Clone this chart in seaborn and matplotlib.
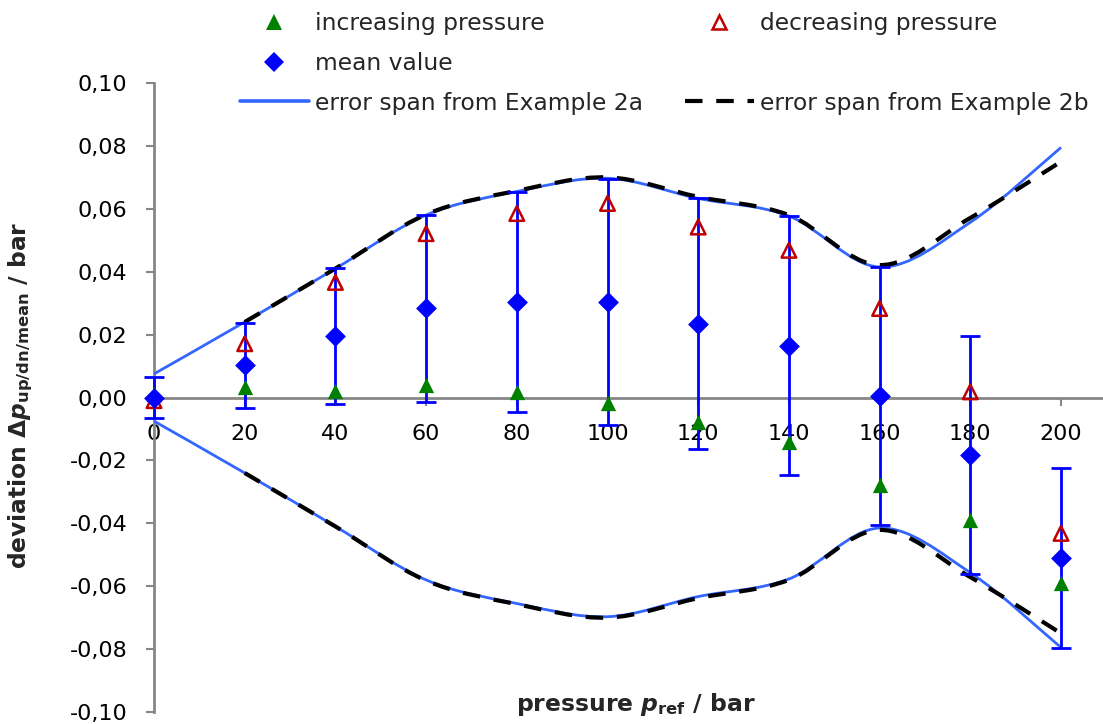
import numpy as np
import matplotlib
matplotlib.use("Agg")
import matplotlib.pyplot as plt
from matplotlib.path import Path
from matplotlib.patches import PathPatch
from matplotlib.lines import Line2D
from matplotlib.ticker import FuncFormatter
import seaborn as sns

# ---------------- data ----------------
pressure = [0, 20, 40, 60, 80, 100, 120, 140, 160, 180, 200]
increasing = [0.0010, 0.0032, 0.0021, 0.0039, 0.0016, -0.0016, -0.0077, -0.0141, -0.0277, -0.0390, -0.0591]
decreasing = [-0.0010, 0.0171, 0.0366, 0.0521, 0.0585, 0.0617, 0.0542, 0.0468, 0.0283, 0.0018, -0.0432]
mean_value = [0.0000, 0.0102, 0.0195, 0.0283, 0.0304, 0.0304, 0.0235, 0.0164, 0.0005, -0.0183, -0.0510]
mean_err = [0.0065, 0.0135, 0.0216, 0.0297, 0.0349, 0.0392, 0.0398, 0.0412, 0.0410, 0.0378, 0.0286]

span_2a_x = [0, 20, 40, 60, 80, 100, 120, 140, 160, 180, 200]
span_2a = [0.0075, 0.0240, 0.0410, 0.0580, 0.0655, 0.0697, 0.0633, 0.0577, 0.0415, 0.0557, 0.0795]
span_2b_x = [20, 40, 60, 80, 100, 120, 140, 160, 180, 200]
span_2b = [0.0240, 0.0410, 0.0582, 0.0657, 0.0700, 0.0638, 0.0580, 0.0421, 0.0571, 0.0750]

x_ticks = [0, 20, 40, 60, 80, 100, 120, 140, 160, 180, 200]
y_ticks = [-0.10, -0.08, -0.06, -0.04, -0.02, 0.00, 0.02, 0.04, 0.06, 0.08, 0.10]

labels = ["increasing pressure", "decreasing pressure", "mean value",
          "error span from Example 2a", "error span from Example 2b"]

# ---------------- style ----------------
sns.set_style("white")
plt.rcParams["font.family"] = ["DejaVu Sans"]
plt.rcParams["mathtext.fontset"] = "custom"
plt.rcParams["mathtext.rm"] = "DejaVu Sans:bold"
plt.rcParams["mathtext.it"] = "DejaVu Sans:bold:italic"
plt.rcParams["mathtext.bf"] = "DejaVu Sans:bold"
plt.rcParams["axes.unicode_minus"] = False

GREEN = "#008000"
RED = "#C00000"
BLUE = "#0000FF"
SPAN_BLUE = "#3366FF"
GRAY = "#868686"

W, H = 1103, 724
fig = plt.figure(figsize=(W / 100, H / 100), dpi=100)
ax = fig.add_axes([154 / W, (H - 712) / H, (W - 154) / W, (712 - 83) / H])
ax.set_xlim(0, 200 * (W - 154) / (1061 - 154))
ax.set_ylim(-0.10, 0.10)
ax.set_axisbelow(True)


def smooth_path(xs, ys):
    pts = np.column_stack([xs, ys]).astype(float)
    n = len(pts)
    verts = [pts[0]]
    codes = [Path.MOVETO]
    for i in range(n - 1):
        p0 = pts[i - 1] if i > 0 else pts[i]
        p1 = pts[i]
        p2 = pts[i + 1]
        p3 = pts[i + 2] if i + 2 < n else pts[i + 1]
        c1 = p1 + (p2 - p0) / 6.0
        c2 = p2 - (p3 - p1) / 6.0
        verts += [c1, c2, p2]
        codes += [Path.CURVE4] * 3
    return Path(verts, codes)


DASH = (4.2, 3.3)
for sign in (1, -1):
    p = smooth_path(span_2a_x, [sign * v for v in span_2a])
    ax.add_patch(PathPatch(p, fill=False, edgecolor=SPAN_BLUE, lw=2.0, zorder=3))
for sign in (1, -1):
    p = smooth_path(span_2b_x, [sign * v for v in span_2b])
    ax.add_patch(PathPatch(p, fill=False, edgecolor="black", lw=3.0,
                           linestyle=(0, DASH), zorder=3.2))

# error bars for mean values
eb = ax.errorbar(pressure, mean_value, yerr=mean_err, fmt="none", ecolor=BLUE,
                 elinewidth=2.0, capsize=7, capthick=2.0, zorder=3.5)
for art in eb.get_children():
    art.set_clip_on(False)

# markers
sns.scatterplot(x=pressure, y=increasing, marker="^", color=GREEN, s=11 ** 2,
                linewidth=0, zorder=4, clip_on=False, ax=ax, legend=False)
ax.scatter(pressure, decreasing, marker="^", s=10.5 ** 2, facecolors="none",
           edgecolors=RED, linewidths=1.8, zorder=4.2, clip_on=False)
sns.scatterplot(x=pressure, y=mean_value, marker="D", color=BLUE, s=10.6 ** 2,
                linewidth=0, zorder=4.5, clip_on=False, ax=ax, legend=False)

# axes styling
for s in ("top", "right"):
    ax.spines[s].set_visible(False)
ax.spines["bottom"].set_position(("data", 0))
for s in ("left", "bottom"):
    ax.spines[s].set_color(GRAY)
    ax.spines[s].set_linewidth(2.0)

ax.set_xticks(x_ticks)
ax.set_yticks(y_ticks)
ax.yaxis.set_major_formatter(FuncFormatter(lambda v, pos: f"{v:.2f}".replace(".", ",")))
ax.tick_params(axis="both", direction="out", length=6, width=1.5, color=GRAY,
               labelsize=16, labelcolor="black", pad=13)
ax.tick_params(axis="x", bottom=True)
ax.tick_params(axis="y", left=True)

# axis titles
fig.text(636 / W, 1 - 704 / H, r"pressure $p_{\mathrm{ref}}$ / bar", ha="center",
         va="center", fontsize=16.9, fontweight="bold")
fig.text(21 / W, 1 - 395 / H, r"deviation $\mathit{\Delta p}_{\mathrm{up/dn/mean}}$ / bar",
         ha="center", va="center", rotation=90, fontsize=16.8, fontweight="bold")

# legend
h_inc = Line2D([], [], ls="none", marker="^", color=GREEN, ms=11, mew=0)
h_dec = Line2D([], [], ls="none", marker="^", mfc="none", mec=RED, mew=1.8, ms=10.5)
h_mean = Line2D([], [], ls="none", marker="D", color=BLUE, ms=10.6, mew=0)
h_2a = Line2D([], [], color=SPAN_BLUE, lw=2.6)
h_2b = Line2D([], [], color="black", lw=3.0, dashes=DASH)
blank = Line2D([], [], ls="none")
handles = [h_inc, h_mean, h_2a, h_dec, blank, h_2b]
leg_labels = [labels[0], labels[2], labels[3], labels[1], "", labels[4]]
fig.legend(handles, leg_labels, ncol=2, loc="upper left",
           bbox_to_anchor=(240 / W, 1 - 12 / H), frameon=False, fontsize=16.8,
           handlelength=2.95, handletextpad=0.26, columnspacing=1.8,
           labelspacing=0.72, borderpad=0, borderaxespad=0)

fig.savefig("out.png", dpi=100)
